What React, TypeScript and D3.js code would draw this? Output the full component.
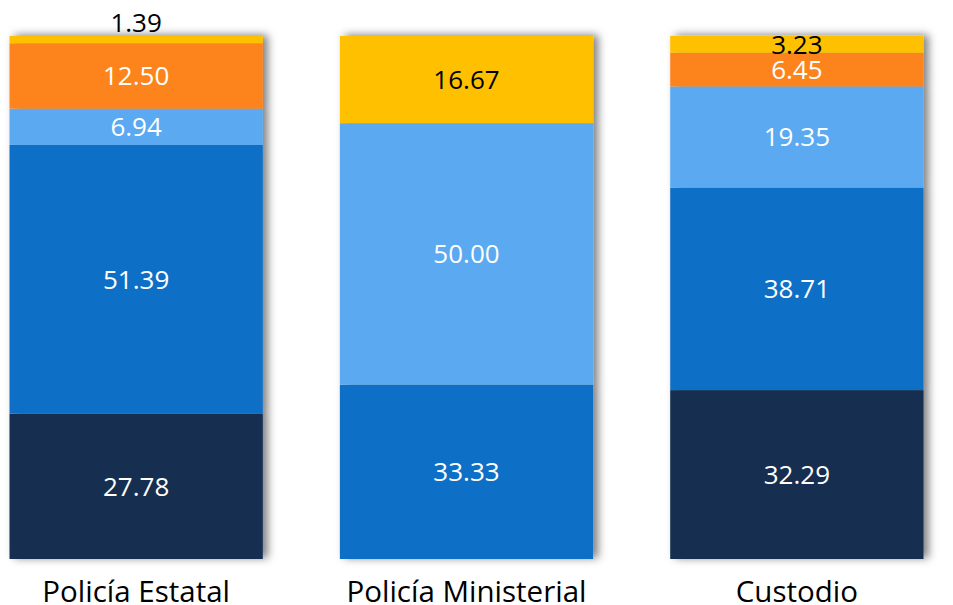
import React from "react";
import * as d3 from "d3";

const categories = ["Policía Estatal", "Policía Ministerial", "Custodio"];
const seriesKeys = ["navy", "blue", "lightBlue", "orange", "yellow"];
const navy = [27.78, 0, 32.29];
const blue = [51.39, 33.33, 38.71];
const lightBlue = [6.94, 50.0, 19.35];
const orange = [12.5, 0, 6.45];
const yellow = [1.39, 16.67, 3.23];
const seriesArrays = [navy, blue, lightBlue, orange, yellow];
const colors = ["#142F50", "#0F6FC6", "#5AA9F1", "#FD841F", "#FFC000"];
const labelColors = ["#fff", "#fff", "#fff", "#fff", "#000"];

const W = 953;
const H = 605;

export default function App() {
  const rows = categories.map((c, i) => {
    const r: any = { cat: c };
    seriesKeys.forEach((k, si) => (r[k] = seriesArrays[si][i]));
    return r;
  });
  const stacked = d3.stack<any>().keys(seriesKeys)(rows);
  const x = d3.scaleBand<string>().domain(categories).range([9.5, 923.5]).paddingInner(0.2333).paddingOuter(0);
  const y = d3.scaleLinear().domain([0, 100]).range([559, 36]);
  const font = "'Open Sans', 'Noto Sans', sans-serif";

  return (
    <svg width={W} height={H} style={{ position: "absolute", left: 0, top: 0, display: "block" }}>
      <defs>
        <filter id="sh" x="-10%" y="-10%" width="130%" height="120%">
          <feDropShadow dx="5" dy="-1" stdDeviation="4" floodColor="#000" floodOpacity="0.5" />
        </filter>
      </defs>
      <rect width={W} height={H} fill="#fff" />
      {categories.map((c, i) => (
        <g key={c} filter="url(#sh)">
          {stacked.map((s, si) => {
            const d = s[i];
            const h = y(d[0]) - y(d[1]);
            if (h <= 0) return null;
            return <rect key={si} x={x(c)} y={y(d[1])} width={x.bandwidth()} height={h} fill={colors[si]} />;
          })}
        </g>
      ))}
      {categories.map((c, i) =>
        stacked.map((s, si) => {
          const d = s[i];
          const v = d[1] - d[0];
          if (v <= 0) return null;
          const h = y(d[0]) - y(d[1]);
          const cx = (x(c) as number) + x.bandwidth() / 2;
          const outside = h < 10;
          const cy = outside ? y(d[1]) - 13 : (y(d[0]) + y(d[1])) / 2;
          return (
            <text
              key={c + si}
              x={cx}
              y={cy}
              dy="0.36em"
              textAnchor="middle"
              fontFamily={font}
              fontSize={26}
              fill={outside ? "#000" : labelColors[si]}
            >
              {v.toFixed(2)}
            </text>
          );
        })
      )}
      {categories.map((c) => (
        <text
          key={c}
          x={(x(c) as number) + x.bandwidth() / 2}
          y={602}
          textAnchor="middle"
          fontFamily={font}
          fontSize={29.5}
          fill="#000"
        >
          {c}
        </text>
      ))}
    </svg>
  );
}
